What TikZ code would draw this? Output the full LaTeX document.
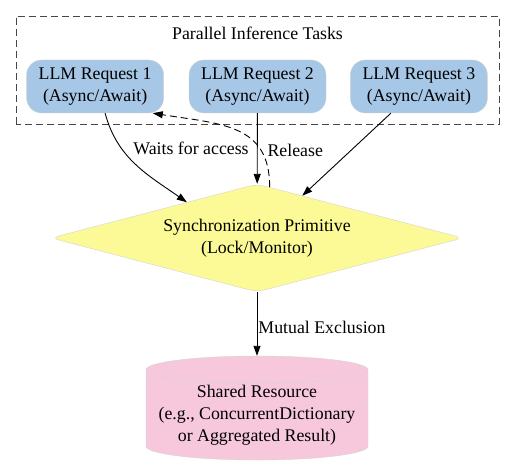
\documentclass[tikz,border=0pt]{standalone}
\usepackage{fontspec}
\setmainfont{Liberation Serif}
\usetikzlibrary{positioning,arrows.meta,shapes.geometric}
\definecolor{reqBlue}{RGB}{166,199,230}
\definecolor{syncYellow}{RGB}{252,250,150}
\definecolor{resPink}{RGB}{247,200,220}
\definecolor{borderGray}{RGB}{212,212,212}
\definecolor{clusterGray}{RGB}{70,70,70}

\begin{document}
\begin{tikzpicture}[x=1pt, y=1pt,
  every node/.style={font=\fontsize{17.8pt}{22pt}\selectfont, align=center},
  request/.style={draw=borderGray, fill=reqBlue, rounded corners=15pt, minimum width=137pt, minimum height=53pt, inner sep=0pt},
  syncnode/.style={diamond, aspect=3.8, draw=borderGray, fill=syncYellow, rounded corners=8pt, minimum width=412pt, minimum height=108pt, inner sep=0pt},
  store/.style={cylinder, shape border rotate=90, shape aspect=0.14, draw=borderGray, fill=resPink, minimum width=222pt, minimum height=104pt, inner sep=0pt},
  edge/.style={-{Triangle[length=10pt,width=7pt]}, line width=0.9pt},
  lbl/.style={inner sep=1pt}
]
  \useasboundingbox (0,0) rectangle (515,474);

  % Parallel tasks cluster
  \draw[clusterGray, dash pattern=on 7pt off 4pt, line width=0.9pt] (16,350) rectangle (499,458);
  \node (title) at (257.5,441) {Parallel Inference Tasks};

  % Requests
  \node[request] (req2) at (257.5,387.5) {LLM Request 2\\(Async/Await)};
  \node[request, left=25pt of req2] (req1) {LLM Request 1\\(Async/Await)};
  \node[request, right=24pt of req2] (req3) {LLM Request 3\\(Async/Await)};

  % Lock and shared state
  \node[syncnode] (sync) at (257,236) {Synchronization Primitive\\(Lock/Monitor)};
  \node[store] (res) at (257,59) {Shared Resource\\(e.g., ConcurrentDictionary\\or Aggregated Result)};

  % Edges
  \draw[edge] ([xshift=10pt]req1.south) to[out=-75, in=145] node[lbl, pos=0.4, right, xshift=4pt, yshift=8pt] {Waits for access} (sync.153);
  \draw[edge] (req2) -- (sync);
  \draw[edge] ([xshift=-28pt]req3.south) -- (sync.43);
  \draw[edge, dash pattern=on 7pt off 4pt] (sync.76) .. controls +(0,63) and +(69,-11) .. node[lbl, pos=0.25, right, xshift=5pt] {Release} ([xshift=-11pt]req1.south east);
  \draw[edge] (sync) -- node[lbl, right, yshift=-3pt] {Mutual Exclusion} (res);
\end{tikzpicture}
\end{document}
